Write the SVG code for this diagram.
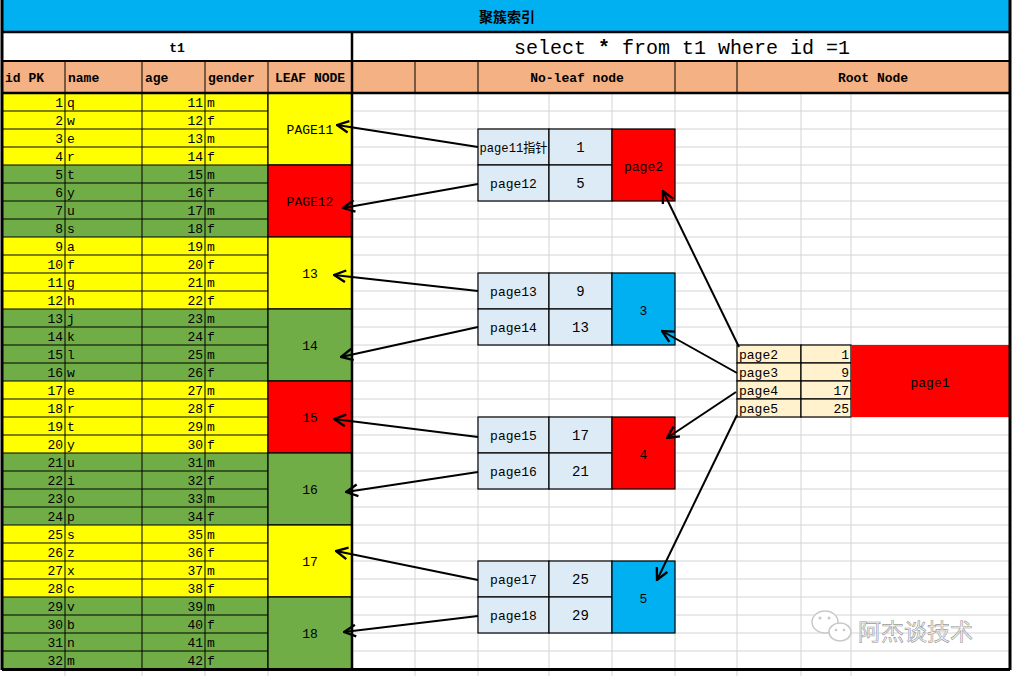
<svg xmlns="http://www.w3.org/2000/svg" width="1013" height="676" viewBox="0 0 1013 676">
<style>
.t{font-family:"Liberation Mono","Noto Sans CJK SC",monospace;font-size:13px;fill:#000}
.b{font-weight:bold}
.r{text-anchor:end}
.c{text-anchor:middle}
.g{stroke:#d4d4d4;stroke-width:1}
.k{stroke:#000;stroke-width:1}
.cell{stroke:#000;stroke-width:1.2}
.y{fill:#ffff00}.gr{fill:#70ad47}.rd{fill:#ff0000}.bl{fill:#00b0f0}.lb{fill:#ddebf7}.be{fill:#fff2cc}.sa{fill:#f4b183}
.arrow{stroke:#000;stroke-width:2;fill:none;marker-end:url(#ah)}
</style>
<defs>
<marker id="ah" markerUnits="userSpaceOnUse" markerWidth="14" markerHeight="14" viewBox="0 0 12 12" refX="11" refY="6" orient="auto">
<path d="M1,1 L11,6 L1,11" fill="none" stroke="#000" stroke-width="2"/>
</marker>
</defs>
<rect width="1013" height="676" fill="#fff"/>

<!-- background grid of right area -->
<g id="grid">
<path class="g" d="M352,111H1010M352,129H1010M352,147H1010M352,165H1010M352,183H1010M352,201H1010M352,219H1010M352,237H1010M352,255H1010M352,273H1010M352,291H1010M352,309H1010M352,327H1010M352,345H1010M352,363H1010M352,381H1010M352,399H1010M352,417H1010M352,435H1010M352,453H1010M352,471H1010M352,489H1010M352,507H1010M352,525H1010M352,543H1010M352,561H1010M352,579H1010M352,597H1010M352,615H1010M352,633H1010M352,651H1010"/>
<path class="g" d="M415,93V669M478,93V669M549,93V669M612,93V669M675,93V669M737,93V669M801,93V669M851,93V669M65,670V676M142,670V676M205,670V676M268,670V676M415,670V676M478,670V676M549,670V676M612,670V676M675,670V676M737,670V676M801,670V676M851,670V676"/>
</g>

<!-- title rows -->
<g id="title">
<rect x="2" y="0" width="1008" height="32" class="bl"/>
<text x="507" y="22" class="t b c" style="font-family:'Noto Sans CJK SC',sans-serif;font-size:14px">聚簇索引</text>
<rect x="2" y="32" width="1008" height="29" fill="#fff"/>
<text x="177" y="52" class="t b c">t1</text>
<text x="682" y="54" class="t c" style="font-size:20px">select <tspan class="b">*</tspan> from t1 where id =1</text>
</g>

<!-- header row -->
<g id="header">
<rect x="2" y="61" width="1008" height="32" class="sa"/>
<path class="k" d="M65,61V93M142,61V93M205,61V93M268,61V93M415,61V93M478,61V93M675,61V93M737,61V93"/>
<text x="5" y="82" class="t b">id PK</text>
<text x="68" y="82" class="t b">name</text>
<text x="145" y="82" class="t b">age</text>
<text x="208" y="82" class="t b">gender</text>
<text x="310" y="82" class="t b c">LEAF NODE</text>
<text x="577" y="82" class="t b c">No-leaf node</text>
<text x="873" y="82" class="t b c">Root Node</text>
</g>

<!-- leaf table -->
<g id="table">
<rect x="2" y="93" width="266" height="72" class="y"/>
<rect x="2" y="165" width="266" height="72" class="gr"/>
<rect x="2" y="237" width="266" height="72" class="y"/>
<rect x="2" y="309" width="266" height="72" class="gr"/>
<rect x="2" y="381" width="266" height="72" class="y"/>
<rect x="2" y="453" width="266" height="72" class="gr"/>
<rect x="2" y="525" width="266" height="72" class="y"/>
<rect x="2" y="597" width="266" height="72" class="gr"/>
<path class="k" d="M2,111H268M2,129H268M2,147H268M2,165H268M2,183H268M2,201H268M2,219H268M2,237H268M2,255H268M2,273H268M2,291H268M2,309H268M2,327H268M2,345H268M2,363H268M2,381H268M2,399H268M2,417H268M2,435H268M2,453H268M2,471H268M2,489H268M2,507H268M2,525H268M2,543H268M2,561H268M2,579H268M2,597H268M2,615H268M2,633H268M2,651H268"/>
<path class="k" d="M65,93V669M142,93V669M205,93V669M268,93V669"/>
<g class="t">
<text x="63" y="107" class="r">1</text><text x="67" y="107">q</text><text x="203" y="107" class="r">11</text><text x="207" y="107">m</text>
<text x="63" y="125" class="r">2</text><text x="67" y="125">w</text><text x="203" y="125" class="r">12</text><text x="207" y="125">f</text>
<text x="63" y="143" class="r">3</text><text x="67" y="143">e</text><text x="203" y="143" class="r">13</text><text x="207" y="143">m</text>
<text x="63" y="161" class="r">4</text><text x="67" y="161">r</text><text x="203" y="161" class="r">14</text><text x="207" y="161">f</text>
<text x="63" y="179" class="r">5</text><text x="67" y="179">t</text><text x="203" y="179" class="r">15</text><text x="207" y="179">m</text>
<text x="63" y="197" class="r">6</text><text x="67" y="197">y</text><text x="203" y="197" class="r">16</text><text x="207" y="197">f</text>
<text x="63" y="215" class="r">7</text><text x="67" y="215">u</text><text x="203" y="215" class="r">17</text><text x="207" y="215">m</text>
<text x="63" y="233" class="r">8</text><text x="67" y="233">s</text><text x="203" y="233" class="r">18</text><text x="207" y="233">f</text>
<text x="63" y="251" class="r">9</text><text x="67" y="251">a</text><text x="203" y="251" class="r">19</text><text x="207" y="251">m</text>
<text x="63" y="269" class="r">10</text><text x="67" y="269">f</text><text x="203" y="269" class="r">20</text><text x="207" y="269">f</text>
<text x="63" y="287" class="r">11</text><text x="67" y="287">g</text><text x="203" y="287" class="r">21</text><text x="207" y="287">m</text>
<text x="63" y="305" class="r">12</text><text x="67" y="305">h</text><text x="203" y="305" class="r">22</text><text x="207" y="305">f</text>
<text x="63" y="323" class="r">13</text><text x="67" y="323">j</text><text x="203" y="323" class="r">23</text><text x="207" y="323">m</text>
<text x="63" y="341" class="r">14</text><text x="67" y="341">k</text><text x="203" y="341" class="r">24</text><text x="207" y="341">f</text>
<text x="63" y="359" class="r">15</text><text x="67" y="359">l</text><text x="203" y="359" class="r">25</text><text x="207" y="359">m</text>
<text x="63" y="377" class="r">16</text><text x="67" y="377">w</text><text x="203" y="377" class="r">26</text><text x="207" y="377">f</text>
<text x="63" y="395" class="r">17</text><text x="67" y="395">e</text><text x="203" y="395" class="r">27</text><text x="207" y="395">m</text>
<text x="63" y="413" class="r">18</text><text x="67" y="413">r</text><text x="203" y="413" class="r">28</text><text x="207" y="413">f</text>
<text x="63" y="431" class="r">19</text><text x="67" y="431">t</text><text x="203" y="431" class="r">29</text><text x="207" y="431">m</text>
<text x="63" y="449" class="r">20</text><text x="67" y="449">y</text><text x="203" y="449" class="r">30</text><text x="207" y="449">f</text>
<text x="63" y="467" class="r">21</text><text x="67" y="467">u</text><text x="203" y="467" class="r">31</text><text x="207" y="467">m</text>
<text x="63" y="485" class="r">22</text><text x="67" y="485">i</text><text x="203" y="485" class="r">32</text><text x="207" y="485">f</text>
<text x="63" y="503" class="r">23</text><text x="67" y="503">o</text><text x="203" y="503" class="r">33</text><text x="207" y="503">m</text>
<text x="63" y="521" class="r">24</text><text x="67" y="521">p</text><text x="203" y="521" class="r">34</text><text x="207" y="521">f</text>
<text x="63" y="539" class="r">25</text><text x="67" y="539">s</text><text x="203" y="539" class="r">35</text><text x="207" y="539">m</text>
<text x="63" y="557" class="r">26</text><text x="67" y="557">z</text><text x="203" y="557" class="r">36</text><text x="207" y="557">f</text>
<text x="63" y="575" class="r">27</text><text x="67" y="575">x</text><text x="203" y="575" class="r">37</text><text x="207" y="575">m</text>
<text x="63" y="593" class="r">28</text><text x="67" y="593">c</text><text x="203" y="593" class="r">38</text><text x="207" y="593">f</text>
<text x="63" y="611" class="r">29</text><text x="67" y="611">v</text><text x="203" y="611" class="r">39</text><text x="207" y="611">m</text>
<text x="63" y="629" class="r">30</text><text x="67" y="629">b</text><text x="203" y="629" class="r">40</text><text x="207" y="629">f</text>
<text x="63" y="647" class="r">31</text><text x="67" y="647">n</text><text x="203" y="647" class="r">41</text><text x="207" y="647">m</text>
<text x="63" y="665" class="r">32</text><text x="67" y="665">m</text><text x="203" y="665" class="r">42</text><text x="207" y="665">f</text>
</g>
</g>

<!-- leaf nodes -->
<g id="leaf-page11"><rect x="268" y="93" width="84" height="72" class="y cell"/><text x="310" y="134" class="t c">PAGE11</text></g>
<g id="leaf-page12"><rect x="268" y="165" width="84" height="72" class="rd cell"/><text x="310" y="206" class="t c">PAGE12</text></g>
<g id="leaf-13"><rect x="268" y="237" width="84" height="72" class="y cell"/><text x="310" y="278" class="t c">13</text></g>
<g id="leaf-14"><rect x="268" y="309" width="84" height="72" class="gr cell"/><text x="310" y="350" class="t c">14</text></g>
<g id="leaf-15"><rect x="268" y="381" width="84" height="72" class="rd cell"/><text x="310" y="422" class="t c">15</text></g>
<g id="leaf-16"><rect x="268" y="453" width="84" height="72" class="gr cell"/><text x="310" y="494" class="t c">16</text></g>
<g id="leaf-17"><rect x="268" y="525" width="84" height="72" class="y cell"/><text x="310" y="566" class="t c">17</text></g>
<g id="leaf-18"><rect x="268" y="597" width="84" height="72" class="gr cell"/><text x="310" y="638" class="t c">18</text></g>

<!-- non-leaf nodes -->
<g id="node-page2">
<rect x="478" y="129" width="71" height="36" class="lb cell"/><rect x="549" y="129" width="63" height="36" class="lb cell"/>
<rect x="478" y="165" width="71" height="36" class="lb cell"/><rect x="549" y="165" width="63" height="36" class="lb cell"/>
<rect x="612" y="129" width="63" height="72" class="rd cell"/>
<text x="513.5" y="152" class="t c" textLength="68" lengthAdjust="spacingAndGlyphs">page11指针</text><text x="580.5" y="152" class="t c" style="font-size:14px">1</text>
<text x="513.5" y="188" class="t c">page12</text><text x="580.5" y="188" class="t c" style="font-size:14px">5</text>
<text x="643.5" y="171" class="t c">page2</text>
</g>
<g id="node-3">
<rect x="478" y="273" width="71" height="36" class="lb cell"/><rect x="549" y="273" width="63" height="36" class="lb cell"/>
<rect x="478" y="309" width="71" height="36" class="lb cell"/><rect x="549" y="309" width="63" height="36" class="lb cell"/>
<rect x="612" y="273" width="63" height="72" class="bl cell"/>
<text x="513.5" y="296" class="t c">page13</text><text x="580.5" y="296" class="t c" style="font-size:14px">9</text>
<text x="513.5" y="332" class="t c">page14</text><text x="580.5" y="332" class="t c" style="font-size:14px">13</text>
<text x="643.5" y="315" class="t c">3</text>
</g>
<g id="node-4">
<rect x="478" y="417" width="71" height="36" class="lb cell"/><rect x="549" y="417" width="63" height="36" class="lb cell"/>
<rect x="478" y="453" width="71" height="36" class="lb cell"/><rect x="549" y="453" width="63" height="36" class="lb cell"/>
<rect x="612" y="417" width="63" height="72" class="rd cell"/>
<text x="513.5" y="440" class="t c">page15</text><text x="580.5" y="440" class="t c" style="font-size:14px">17</text>
<text x="513.5" y="476" class="t c">page16</text><text x="580.5" y="476" class="t c" style="font-size:14px">21</text>
<text x="643.5" y="459" class="t c">4</text>
</g>
<g id="node-5">
<rect x="478" y="561" width="71" height="36" class="lb cell"/><rect x="549" y="561" width="63" height="36" class="lb cell"/>
<rect x="478" y="597" width="71" height="36" class="lb cell"/><rect x="549" y="597" width="63" height="36" class="lb cell"/>
<rect x="612" y="561" width="63" height="72" class="bl cell"/>
<text x="513.5" y="584" class="t c">page17</text><text x="580.5" y="584" class="t c" style="font-size:14px">25</text>
<text x="513.5" y="620" class="t c">page18</text><text x="580.5" y="620" class="t c" style="font-size:14px">29</text>
<text x="643.5" y="603" class="t c">5</text>
</g>

<!-- root node -->
<g id="root-page1">
<rect x="737" y="345" width="64" height="18" class="be cell"/><rect x="801" y="345" width="50" height="18" class="be cell"/>
<rect x="737" y="363" width="64" height="18" class="be cell"/><rect x="801" y="363" width="50" height="18" class="be cell"/>
<rect x="737" y="381" width="64" height="18" class="be cell"/><rect x="801" y="381" width="50" height="18" class="be cell"/>
<rect x="737" y="399" width="64" height="18" class="be cell"/><rect x="801" y="399" width="50" height="18" class="be cell"/>
<rect x="851" y="345" width="158" height="72" class="rd"/>
<text x="739" y="359" class="t">page2</text><text x="849" y="359" class="t r">1</text>
<text x="739" y="377" class="t">page3</text><text x="849" y="377" class="t r">9</text>
<text x="739" y="395" class="t">page4</text><text x="849" y="395" class="t r">17</text>
<text x="739" y="413" class="t">page5</text><text x="849" y="413" class="t r">25</text>
<text x="930" y="387" class="t c">page1</text>
</g>

<!-- connectors -->
<g id="connectors">
<path class="arrow" d="M478,147L337,125"/>
<path class="arrow" d="M478,184L343,208"/>
<path class="arrow" d="M478,291L334,275"/>
<path class="arrow" d="M478,327L341,357"/>
<path class="arrow" d="M478,437L334,419"/>
<path class="arrow" d="M478,472L346,492"/>
<path class="arrow" d="M478,580L336,551"/>
<path class="arrow" d="M478,616L344,632"/>
<path class="arrow" d="M739,347L663,191"/>
<path class="arrow" d="M737,373L662,331"/>
<path class="arrow" d="M736,392L667,438"/>
<path class="arrow" d="M737,415L657,580"/>
</g>

<!-- outer frame lines -->
<g id="frame" fill="none" stroke="#000">
<path d="M2,0V670" stroke-width="3"/>
<path d="M1010,0V670" stroke-width="3"/>
<path d="M2,32H1010" stroke-width="2.5"/>
<path d="M2,61H1010" stroke-width="2"/>
<path d="M2,93H1010" stroke-width="2.5"/>
<path d="M352,32V670" stroke-width="2.5"/>
<path d="M2,669.5H1010" stroke-width="3"/>
</g>

<!-- watermark -->
<g id="watermark">
<ellipse cx="825" cy="622" rx="13" ry="11" fill="#fff" stroke="#c8c8c8" stroke-width="1.5"/>
<ellipse cx="840" cy="632" rx="11" ry="9" fill="#fff" stroke="#c8c8c8" stroke-width="1.5"/>
<circle cx="820" cy="618" r="1.5" fill="#c8c8c8"/><circle cx="829" cy="618" r="1.5" fill="#c8c8c8"/>
<circle cx="836" cy="630" r="1.3" fill="#c8c8c8"/><circle cx="844" cy="630" r="1.3" fill="#c8c8c8"/>
<text x="858" y="640" style="font-family:'Noto Sans CJK SC',sans-serif;font-size:23px;fill:#f6f6f6;stroke:#9a9a9a;stroke-width:0.6">阿杰谈技术</text>
</g>
</svg>
